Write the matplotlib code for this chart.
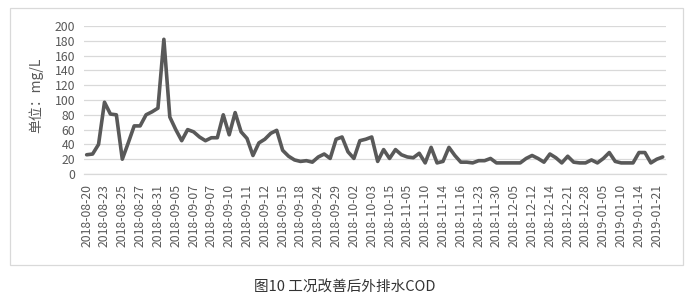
import matplotlib
matplotlib.use("Agg")
import matplotlib.pyplot as plt
from matplotlib.patches import Rectangle

plt.rcParams['font.family'] = ['Noto Sans CJK SC', 'DejaVu Sans']

tick_labels = ["2018-08-20", "2018-08-23", "2018-08-25", "2018-08-27", "2018-08-31",
               "2018-09-05", "2018-09-07", "2018-09-07", "2018-09-10", "2018-09-11",
               "2018-09-12", "2018-09-15", "2018-09-18", "2018-09-24", "2018-09-29",
               "2018-10-02", "2018-10-03", "2018-10-15", "2018-11-05", "2018-11-10",
               "2018-11-14", "2018-11-16", "2018-11-23", "2018-11-30", "2018-12-05",
               "2018-12-12", "2018-12-14", "2018-12-21", "2018-12-28", "2019-01-05",
               "2019-01-10", "2019-01-14", "2019-01-21"]
label_interval = 3

cod_values = [26, 27, 40, 97, 81, 80, 20, 42, 65, 65,
              80, 84, 89, 182, 77, 60, 45, 60, 57, 50,
              45, 49, 49, 80, 53, 83, 57, 48, 25, 42,
              47, 55, 59, 32, 24, 19, 17, 18, 16, 23,
              27, 21, 47, 50, 30, 21, 45, 47, 50, 17,
              33, 21, 33, 26, 23, 22, 28, 15, 36, 15,
              17, 36, 25, 16, 16, 15, 18, 18, 21, 15,
              15, 15, 15, 15, 21, 25, 21, 16, 27, 22,
              15, 24, 16, 15, 15, 19, 15, 21, 29, 17,
              15, 15, 15, 29, 29, 15, 20, 23]

y_ticks = [0, 20, 40, 60, 80, 100, 120, 140, 160, 180, 200]
y_label = "单位：mg/L"
caption = "图10 工况改善后外排水COD"

W, H = 694, 303
fig = plt.figure(figsize=(W / 100, H / 100), dpi=100)
fig.patch.set_facecolor('white')

# outer chart border
fig.add_artist(Rectangle((10 / W, 1 - 265 / H), (683 - 10) / W, (265 - 8) / H,
                         transform=fig.transFigure, fill=False,
                         edgecolor='#d9d9d9', linewidth=0.9))

ax = fig.add_axes([83.7 / W, 1 - 174 / H, 582 / W, 148 / H])
x = list(range(len(cod_values)))
ax.plot(x, cod_values, color='#595959', linewidth=2.6, solid_joinstyle='round',
        solid_capstyle='round', zorder=3)

ax.set_xlim(-0.5, len(cod_values) - 0.5)
ax.set_ylim(0, 200)
ax.set_yticks(y_ticks)
ax.set_yticklabels([str(v) for v in y_ticks])
tick_pos = list(range(0, len(cod_values), label_interval))[:len(tick_labels)]
ax.set_xticks(tick_pos)
ax.set_xticklabels(tick_labels, rotation=90, va='top', ha='center')

ax.grid(axis='y', color='#d9d9d9', linewidth=0.9)
ax.set_axisbelow(True)
for s in ['top', 'right', 'left']:
    ax.spines[s].set_visible(False)
ax.spines['bottom'].set_color('#d9d9d9')
ax.spines['bottom'].set_linewidth(0.9)
ax.tick_params(axis='both', length=0, colors='#595959', labelsize=8.8)
ax.tick_params(axis='y', pad=6)
ax.tick_params(axis='x', pad=7)

fig.text(36 / W, 1 - 95 / H, y_label, rotation=90, ha='center', va='center',
         fontsize=10, color='#595959')
fig.text(345 / W, 1 - 287 / H, caption, ha='center', va='center',
         fontsize=10.5, color='#333333')

fig.savefig("out.png", dpi=100, facecolor='white')
